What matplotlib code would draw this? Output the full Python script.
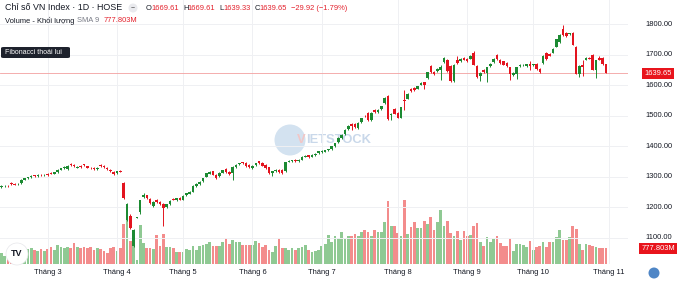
import matplotlib
matplotlib.use('Agg')
import matplotlib.pyplot as plt
from matplotlib.patches import Ellipse, FancyBboxPatch
import numpy as np

plt.rcParams['font.family'] = ['Liberation Sans', 'DejaVu Sans']

# ---------------- data ----------------
opens = [
    1268, 1270, 1272, 1279, 1278, 1276, 1279, 1291, 1296, 1299,
    1306, 1304, 1307, 1305, 1308, 1314, 1311, 1316, 1324, 1328,
    1325, 1341, 1338, 1331, 1335, 1342, 1335, 1331, 1329, 1326,
    1339, 1336, 1330, 1324, 1316, 1312, 1320, 1281, 1160, 1173,
    1075, 1166, 1184, 1236, 1240, 1229, 1206, 1226, 1219, 1212,
    1200, 1211, 1229, 1225, 1231, 1226, 1240, 1245, 1252, 1270,
    1276, 1286, 1301, 1311, 1318, 1306, 1302, 1314, 1326, 1315,
    1313, 1333, 1341, 1347, 1346, 1340, 1329, 1339, 1351, 1347,
    1340, 1332, 1313, 1318, 1323, 1323, 1318, 1350, 1353, 1357,
    1352, 1357, 1367, 1371, 1367, 1371, 1378, 1381, 1383, 1387,
    1392, 1400, 1415, 1428, 1440, 1457, 1474, 1474, 1460, 1480,
    1501, 1510, 1488, 1521, 1514, 1523, 1541, 1564, 1502, 1523,
    1510, 1495, 1553, 1557, 1589, 1592, 1590, 1603, 1610, 1623,
    1663, 1643, 1647, 1652, 1677, 1683, 1663, 1614, 1682, 1679,
    1690, 1687, 1688, 1708, 1663, 1630, 1650, 1641, 1663, 1676,
    1701, 1683, 1679, 1674, 1660, 1634, 1639, 1665, 1667, 1663,
    1672, 1666, 1672, 1654, 1674, 1707, 1704, 1707, 1727, 1742,
    1786, 1773, 1769, 1773, 1727, 1639, 1666, 1685, 1690, 1701,
    1650, 1690, 1690, 1669.61]

highs = [
    1273, 1274, 1275, 1282, 1280, 1280, 1292, 1298, 1301, 1305,
    1308, 1309, 1310, 1310, 1312, 1316, 1317, 1326, 1330, 1335,
    1340, 1345, 1341, 1336, 1338, 1344, 1337, 1334, 1332, 1333,
    1342, 1338, 1332, 1327, 1318, 1320, 1322, 1283, 1214, 1178,
    1130, 1169, 1226, 1247, 1242, 1231, 1221, 1229, 1222, 1214,
    1213, 1223, 1232, 1232, 1233, 1240, 1249, 1254, 1273, 1279,
    1288, 1298, 1314, 1320, 1321, 1309, 1316, 1324, 1328, 1318,
    1337, 1342, 1347, 1350, 1348, 1342, 1339, 1347, 1354, 1349,
    1342, 1334, 1320, 1325, 1326, 1325, 1350, 1355, 1357, 1360,
    1358, 1369, 1371, 1373, 1375, 1378, 1386, 1388, 1389, 1393,
    1402, 1413, 1430, 1440, 1457, 1470, 1478, 1477, 1479, 1495,
    1504, 1513, 1512, 1524, 1522, 1534, 1561, 1568, 1510, 1526,
    1513, 1531, 1586, 1575, 1592, 1595, 1599, 1610, 1613, 1645,
    1666, 1646, 1656, 1668, 1692, 1686, 1666, 1670, 1698, 1689,
    1693, 1690, 1700, 1712, 1666, 1643, 1653, 1662, 1674, 1689,
    1704, 1686, 1681, 1676, 1662, 1644, 1662, 1670, 1671, 1672,
    1679, 1671, 1675, 1657, 1700, 1710, 1708, 1722, 1753, 1769,
    1797, 1776, 1772, 1775, 1730, 1667, 1683, 1692, 1693, 1704,
    1685, 1698, 1692, 1669.61]

lows = [
    1265, 1267, 1268, 1275, 1273, 1273, 1278, 1289, 1294, 1297,
    1300, 1301, 1302, 1303, 1304, 1309, 1309, 1314, 1322, 1326,
    1323, 1336, 1333, 1329, 1330, 1336, 1329, 1326, 1324, 1324,
    1334, 1330, 1323, 1316, 1308, 1310, 1315, 1228, 1155, 1130,
    1070, 1165, 1180, 1232, 1228, 1212, 1203, 1216, 1207, 1140,
    1197, 1209, 1224, 1222, 1223, 1224, 1238, 1243, 1250, 1268,
    1274, 1284, 1299, 1309, 1305, 1295, 1300, 1312, 1312, 1306,
    1291, 1331, 1339, 1343, 1333, 1331, 1327, 1337, 1343, 1335,
    1327, 1311, 1304, 1316, 1314, 1310, 1316, 1348, 1350, 1350,
    1350, 1355, 1364, 1362, 1365, 1369, 1376, 1379, 1381, 1385,
    1390, 1398, 1413, 1426, 1438, 1455, 1455, 1460, 1458, 1478,
    1497, 1484, 1485, 1510, 1511, 1520, 1539, 1486, 1486, 1505,
    1492, 1493, 1521, 1555, 1578, 1581, 1588, 1601, 1589, 1621,
    1640, 1635, 1645, 1619, 1675, 1645, 1612, 1610, 1672, 1677,
    1683, 1678, 1686, 1666, 1626, 1614, 1640, 1610, 1661, 1674,
    1685, 1672, 1666, 1661, 1619, 1630, 1620, 1662, 1664, 1661,
    1652, 1663, 1652, 1641, 1672, 1685, 1696, 1705, 1725, 1740,
    1762, 1760, 1767, 1732, 1637, 1628, 1632, 1683, 1686, 1650,
    1625, 1683, 1667, 1639.33]

closes = [
    1271, 1272, 1270, 1277, 1275, 1278, 1290, 1296, 1299, 1303,
    1303, 1306, 1305, 1308, 1307, 1311, 1315, 1324, 1328, 1333,
    1337, 1338, 1335, 1334, 1333, 1338, 1331, 1328, 1326, 1331,
    1336, 1332, 1325, 1319, 1311, 1318, 1317, 1230, 1211, 1133,
    1126, 1168, 1223, 1242, 1231, 1215, 1219, 1219, 1210, 1198,
    1211, 1221, 1226, 1230, 1226, 1238, 1246, 1251, 1271, 1276,
    1285, 1296, 1312, 1317, 1308, 1298, 1314, 1322, 1315, 1310,
    1334, 1340, 1345, 1346, 1336, 1334, 1337, 1345, 1345, 1337,
    1329, 1314, 1318, 1323, 1316, 1313, 1348, 1353, 1355, 1352,
    1356, 1367, 1368, 1364, 1373, 1376, 1384, 1386, 1387, 1391,
    1400, 1411, 1428, 1438, 1455, 1467, 1466, 1463, 1477, 1493,
    1499, 1488, 1510, 1513, 1520, 1532, 1559, 1490, 1508, 1508,
    1495, 1529, 1550, 1573, 1581, 1584, 1597, 1608, 1600, 1643,
    1643, 1638, 1654, 1660, 1690, 1647, 1614, 1668, 1674, 1687,
    1685, 1680, 1698, 1668, 1628, 1641, 1643, 1660, 1672, 1687,
    1687, 1674, 1668, 1663, 1639, 1641, 1660, 1668, 1668, 1670,
    1663, 1669, 1654, 1643, 1698, 1687, 1698, 1720, 1751, 1767,
    1764, 1762, 1770, 1734, 1639, 1665, 1662, 1690, 1688, 1652,
    1683, 1685, 1669.57, 1639.65]

volumes_m = [
    550, 400, 450, 500, 450, 500, 500, 650, 750, 800,
    700, 650, 750, 650, 750, 850, 700, 950, 850, 800,
    850, 800, 1050, 850, 800, 850, 800, 850, 700, 800,
    750, 650, 550, 800, 850, 650, 800, 2000, 2250, 1150,
    1600, 200, 1950, 1050, 800, 800, 750, 1450, 900, 1500,
    850, 850, 800, 600, 600, 600, 750, 700, 900, 700,
    900, 950, 1000, 1100, 900, 900, 900, 1100, 1300, 1000,
    1200, 1100, 1100, 950, 950, 950, 950, 1150, 1050, 850,
    950, 700, 600, 900, 1300, 800, 800, 700, 800, 700,
    800, 850, 950, 700, 600, 650, 700, 900, 1000, 1450,
    1100, 1400, 1300, 1600, 1250, 1400, 1400, 1500, 1400, 1600,
    1700, 1600, 1400, 1700, 1600, 1600, 2100, 3150, 1900, 1900,
    1550, 1400, 3200, 1500, 1850, 2100, 1800, 1800, 2150, 2000,
    2350, 1700, 2100, 2700, 1900, 2150, 1550, 1400, 1650, 1200,
    1650, 1400, 1450, 1900, 2050, 1100, 900, 1350, 1100, 1250,
    1400, 1050, 900, 900, 1300, 650, 1000, 1000, 950, 850,
    1150, 700, 850, 900, 1100, 850, 1100, 1100, 1350, 1700,
    1200, 1200, 1350, 1900, 1750, 1000, 700, 1000, 950, 900,
    850, 800, 800, 777.803]

month_labels = ['Tháng 3', 'Tháng 4', 'Tháng 5', 'Tháng 6', 'Tháng 7',
                'Tháng 8', 'Tháng 9', 'Tháng 10', 'Tháng 11']
month_pos = [14, 35, 55, 76, 97, 120, 141, 161, 184]
price_ticks = [1100, 1200, 1300, 1400, 1500, 1600, 1700, 1800]
last_close = 1639.65
last_volume_m = 777.803

assert len(opens) == len(highs) == len(lows) == len(closes) == len(volumes_m)

# ---------------- style ----------------
W, H = 680, 281
UP, DN = '#1c8a32', '#e3141f'
VUP, VDN = '#8fc993', '#f38c8c'
TXT = '#131722'
GRID = '#eff0f3'

fig = plt.figure(figsize=(W / 100, H / 100), dpi=100)
fig.patch.set_facecolor('white')
rect = [0, 17 / H, 628 / W, 264 / H]
axv = fig.add_axes(rect, zorder=1)
ax = fig.add_axes(rect, zorder=2)
ax.patch.set_alpha(0)
for a in (ax, axv):
    for s in a.spines.values():
        s.set_visible(False)
    a.set_xticks([])
    a.set_yticks([])

x = np.arange(len(closes))
o = np.array(opens, dtype=float)
c = np.array(closes, dtype=float)
up = c >= o
ccol = np.where(up, UP, DN)
vcol = np.where(up, VUP, VDN)

xlim = (-0.45, 189.7)
ax.set_xlim(*xlim)
axv.set_xlim(*xlim)
ax.set_ylim(1014.7, 1880.3)
axv.set_ylim(0, 13200)

# grid
for p in price_ticks:
    ax.axhline(p, color=GRID, lw=0.7, zorder=0)
for m in month_pos:
    ax.axvline(m, color=GRID, lw=0.7, zorder=0)

# volume
axv.bar(x, volumes_m, width=0.82, color=vcol, linewidth=0, zorder=2)

# watermark (Vietstock)
axv.add_patch(Ellipse((290 / W, 1 - 140 / H), 31 / W, 31 / H, transform=fig.transFigure,
                      fc='#d3e2f0', ec='none', zorder=1, clip_on=False))
fig.text(297 / W, 1 - 140 / H, 'V', color='#f2c6c6', fontsize=9.3, fontweight='bold',
         ha='left', va='center', zorder=1)
fig.text(306 / W, 1 - 140 / H, 'IETSTOCK', color='#c9d8ea', fontsize=9.3, fontweight='bold',
         ha='left', va='center', zorder=1)

# price line
ax.axhline(last_close, color='#f2a0a0', lw=0.6, zorder=1)

# candles
ax.vlines(x, lows, highs, colors=ccol, lw=0.7, zorder=3)
body_bottom = np.minimum(o, c)
body_h = np.maximum(np.abs(c - o), 1.6)
ax.bar(x, body_h, bottom=body_bottom, width=0.78, color=ccol, linewidth=0, zorder=4)

# price axis labels
for p in price_ticks:
    ax.annotate(f'{p:.2f}', xy=(659 / W, p), xycoords=('figure fraction', 'data'),
                ha='center', va='center', fontsize=5.4, color=TXT, annotation_clip=False)
ax.annotate(f'{last_close:.2f}', xy=(658 / W, last_close), xycoords=('figure fraction', 'data'),
            ha='center', va='center', fontsize=5.4, color='white', annotation_clip=False,
            bbox=dict(boxstyle='square,pad=0.3', fc='#e8141c', ec='none'))
axv.annotate(f'{last_volume_m:.3f}M', xy=(658 / W, last_volume_m), xycoords=('figure fraction', 'data'),
             ha='center', va='center', fontsize=5.4, color='white', annotation_clip=False,
             bbox=dict(boxstyle='square,pad=0.3', fc='#e8141c', ec='none'))

# month labels
for lbl, m in zip(month_labels, month_pos):
    ax.annotate(lbl, xy=(m, 9 / H), xycoords=('data', 'figure fraction'),
                ha='center', va='center', fontsize=5.4, color=TXT, annotation_clip=False)

# header texts
renderer = fig.canvas.get_renderer()


def pieces(x_px, y_px, parts, size):
    xx = x_px
    for s, col, gap in parts:
        t = fig.text(xx / W, 1 - y_px / H, s, color=col, fontsize=size, ha='left', va='center',
                     zorder=10)
        xx += t.get_window_extent(renderer=renderer).width + gap
    return xx


pieces(5, 8, [('Chỉ số VN Index · 1D · HOSE', TXT, 0)], 6.4)
fig.patches.append(Ellipse((133 / W, 1 - 8 / H), 9 / W, 9 / H, transform=fig.transFigure,
                           fc='#e9eaee', ec='none', zorder=10))
fig.text(133 / W, 1 - 8 / H, '−', color='#555', fontsize=5, ha='center', va='center', zorder=11)
RED = '#e3202b'
pieces(146, 8, [('O', TXT, -0.5), ('1669.61', RED, 4), ('H', TXT, -0.5), ('1669.61', RED, 4),
                ('L', TXT, -0.5), ('1639.33', RED, 4), ('C', TXT, -0.5), ('1639.65', RED, 4),
                ('−29.92 (−1.79%)', RED, 0)], 5.4)
pieces(5, 21, [('Volume - Khối lượng', TXT, 3), ('SMA 9', '#787b86', 4), ('777.803M', RED, 0)], 5.4)

# Fibonacci tooltip
fig.patches.append(FancyBboxPatch((1 / W, 1 - 58 / H), 69 / W, 11 / H,
                                  boxstyle='round,pad=0,rounding_size=0.004',
                                  transform=fig.transFigure, fc='#1e222d', ec='none', zorder=10))
fig.text(5 / W, 1 - 52.5 / H, 'Fibonacci thoái lui', color='white', fontsize=5.0,
         ha='left', va='center', zorder=11)

# TradingView logo
fig.patches.append(Ellipse((17 / W, 1 - 254 / H), 22 / W, 22 / H, transform=fig.transFigure,
                           fc='white', ec='#e6e6ea', lw=0.5, zorder=10))
fig.text(17 / W, 1 - 254 / H, 'TV', color='#131722', fontsize=6.5, fontweight='bold',
         ha='center', va='center', zorder=11)

# small logo bottom-right
fig.patches.append(Ellipse((654 / W, 1 - 273 / H), 11 / W, 11 / H, transform=fig.transFigure,
                           fc='#4f86c6', ec='none', zorder=10))

fig.savefig('out.png', dpi=100, facecolor='white')
